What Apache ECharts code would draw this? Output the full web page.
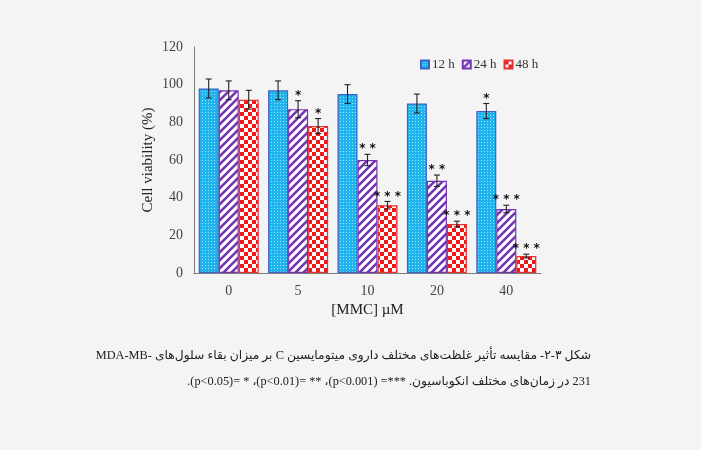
<!DOCTYPE html>
<html>
<head>
<meta charset="utf-8">
<script src="https://cdn.jsdelivr.net/npm/echarts@6/dist/echarts.min.js"></script>
<style>
  html, body { margin:0; padding:0; background:#f4f4f4; }
  #chart { position:absolute; left:0; top:0; width:701px; height:450px; }
  .cap { position:absolute; direction:rtl; white-space:nowrap;
    font-family:"Liberation Serif","DejaVu Sans",serif; font-size:12.3px; line-height:20px; color:#222; }
  #cap1 { left:98px; width:493px; top:345px; text-align:justify; text-align-last:justify; }
  #cap2 { right:110px; top:371px; text-align:right; }
</style>
</head>
<body>
<div id="chart"></div>
<div id="cap1" class="cap" dir="rtl">شکل ۳-۲- مقایسه تأثیر غلظت‌های مختلف داروی میتومایسین C بر میزان بقاء سلول‌های -MDA-MB</div>
<div id="cap2" class="cap" dir="rtl">231 در زمان‌های مختلف انکوباسیون. ***= (p&lt;0.001)، ** =(p&lt;0.01)، * =(p&lt;0.05).</div>
<script>
const categories = ['0', '5', '10', '20', '40'];
const seriesNames = ['12 h', '24 h', '48 h'];
const values12 = [98, 97, 95, 90, 86];
const values24 = [97, 87, 60, 49, 34];
const values48 = [92, 78, 36, 26, 9];
const err12 = [5, 5, 5, 5, 4];
const err24 = [5, 4.5, 3, 3, 2];
const err48 = [5, 4, 2, 1.5, 1];
const sig12 = ['', '', '', '', '*'];
const sig24 = ['', '*', '**', '**', '***'];
const sig48 = ['', '*', '***', '***', '***'];
const yTicks = [0, 20, 40, 60, 80, 100, 120];

function makeTile(w, h, draw) {
  const c = document.createElement('canvas');
  c.width = w; c.height = h;
  draw(c.getContext('2d'));
  return c;
}
const dotTile = makeTile(3, 3, ctx => {
  ctx.fillStyle = '#1fb4ee'; ctx.fillRect(0, 0, 3, 3);
  ctx.fillStyle = '#9be2fb'; ctx.fillRect(1, 1, 1, 1);
});
const stripeTile = makeTile(8, 8, ctx => {
  ctx.fillStyle = '#ffffff'; ctx.fillRect(0, 0, 8, 8);
  ctx.strokeStyle = '#7434b0'; ctx.lineWidth = 2.6;
  ctx.beginPath();
  ctx.moveTo(-2, 10); ctx.lineTo(10, -2);
  ctx.moveTo(-6, 6); ctx.lineTo(6, -6);
  ctx.moveTo(2, 14); ctx.lineTo(14, 2);
  ctx.stroke();
});
const checkTile = makeTile(8, 8, ctx => {
  ctx.fillStyle = '#ffffff'; ctx.fillRect(0, 0, 8, 8);
  ctx.fillStyle = '#f01818';
  ctx.fillRect(0, 0, 4, 4); ctx.fillRect(4, 4, 4, 4);
});
const fills = [
  { image: dotTile, repeat: 'repeat' },
  { image: stripeTile, repeat: 'repeat' },
  { image: checkTile, repeat: 'repeat' }
];
const borders = ['#3d62c8', '#7434b0', '#e83030'];
const allVals = [values12, values24, values48];
const allErr = [err12, err24, err48];
const allSig = [sig12, sig24, sig48];

const chart = echarts.init(document.getElementById('chart'), null, { renderer: 'canvas' });
const serif = '"Liberation Serif","Times New Roman",serif';
const BW = 20;

const barSeries = seriesNames.map((n, i) => ({
  name: n,
  type: 'bar',
  data: allVals[i],
  barWidth: BW,
  barGap: '0%',
  itemStyle: { color: fills[i], borderColor: borders[i], borderWidth: 1.2 },
  z: 2
}));

const errSeries = seriesNames.map((n, i) => ({
  type: 'custom',
  name: n + ' err',
  z: 5,
  data: allVals[i].map((v, k) => [k, v, allErr[i][k]]),
  renderItem: function (params, api) {
    const k = api.value(0), v = api.value(1), e = api.value(2);
    const sig = allSig[i][k];
    const off = (i - 1) * BW;
    const pTop = api.coord([k, v + e]);
    const pBot = api.coord([k, v - e]);
    const x = pTop[0] + off;
    const cap = 3;
    const ls = { stroke: '#222', lineWidth: 1.1 };
    const children = [
      { type: 'line', shape: { x1: x, y1: pTop[1], x2: x, y2: pBot[1] }, style: ls },
      { type: 'line', shape: { x1: x - cap, y1: pTop[1], x2: x + cap, y2: pTop[1] }, style: ls },
      { type: 'line', shape: { x1: x - cap, y1: pBot[1], x2: x + cap, y2: pBot[1] }, style: ls }
    ];
    if (sig) {
      children.push({
        type: 'text',
        style: {
          text: sig.split('').join(' '), x: x, y: pTop[1] + 1,
          align: 'center', verticalAlign: 'bottom',
          font: 'bold 12px "DejaVu Sans",sans-serif', fill: '#111'
        }
      });
    }
    return { type: 'group', children: children };
  }
}));

chart.setOption({
  backgroundColor: '#f4f4f4',
  animation: false,
  grid: { left: 194, right: 160, top: 47, bottom: 177 },
  legend: {
    data: seriesNames,
    top: 53, left: 415,
    itemWidth: 8, itemHeight: 8, itemGap: 7,
    icon: 'rect',
    textStyle: { fontFamily: serif, fontSize: 13, color: '#333', padding: [0, 0, 0, -2] }
  },
  xAxis: {
    type: 'category',
    data: categories,
    axisLine: { lineStyle: { color: '#7c7c7c', width: 1 } },
    axisTick: { show: false },
    axisLabel: { fontFamily: serif, fontSize: 14, color: '#444', margin: 11 },
    name: '[MMC] µM',
    nameLocation: 'middle',
    nameGap: 29,
    nameTextStyle: { fontFamily: serif, fontSize: 15, color: '#222' }
  },
  yAxis: {
    type: 'value',
    min: 0, max: 120, interval: 20,
    axisLine: { show: true, lineStyle: { color: '#7c7c7c', width: 1 } },
    axisTick: { show: false },
    splitLine: { show: false },
    axisLabel: { fontFamily: serif, fontSize: 14, color: '#444', margin: 11,
      formatter: v => yTicks.includes(v) ? String(v) : '' },
    name: 'Cell viability (%)',
    nameLocation: 'middle',
    nameGap: 38,
    nameTextStyle: { fontFamily: serif, fontSize: 15, color: '#222' }
  },
  series: barSeries.concat(errSeries)
});
</script>
</body>
</html>
